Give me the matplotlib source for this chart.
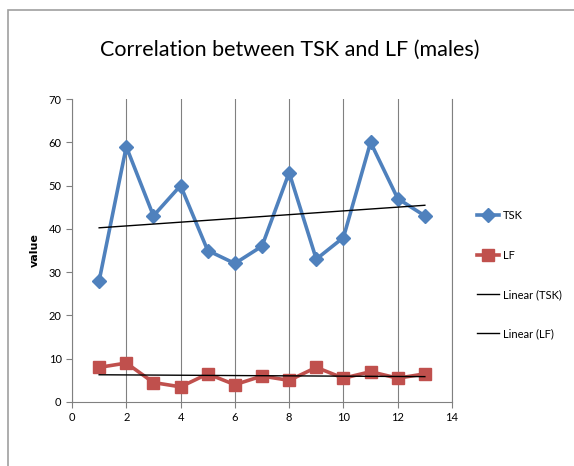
import numpy as np
import matplotlib
matplotlib.use("Agg")
import matplotlib.pyplot as plt
from matplotlib.patches import Rectangle

# valores por muestra
muestra = np.arange(1, 14)
tsk = [28, 59, 43, 50, 35, 32, 36, 53, 33, 38, 60, 47, 43]
lf = [8, 9, 4.5, 3.5, 6.5, 4, 6, 5, 8, 5.5, 7, 5.5, 6.5]

azul = '#4F81BD'
rojo = '#C0504D'
fuente = ['Lato', 'DejaVu Sans']

fig = plt.figure(figsize=(5.74, 4.66), dpi=100)
ax = fig.add_axes([72/574, 64/466, 380/574, 303/466])

# marco del gráfico
fig.patches.append(Rectangle((8/574, -0.1), 1.2, (466 - 10)/466 + 0.1,
                             transform=fig.transFigure, fill=False,
                             edgecolor='#A0A0A0', linewidth=1.2))

ax.plot(muestra, tsk, color=azul, linewidth=2.6, marker='D', markersize=7.5,
        label='TSK')
ax.plot(muestra, lf, color=rojo, linewidth=2.6, marker='s', markersize=8,
        label='LF')

# líneas de tendencia
p_tsk = np.polyfit(muestra, tsk, 1)
p_lf = np.polyfit(muestra, lf, 1)
xs = np.array([muestra[0], muestra[-1]])
ax.plot(xs, np.polyval(p_tsk, xs), color='black', linewidth=1.0,
        label='Linear (TSK)')
ax.plot(xs, np.polyval(p_lf, xs), color='black', linewidth=1.0,
        label='Linear (LF)')

ax.set_xlim(0, 14)
ax.set_ylim(0, 70)
ax.set_xticks(range(0, 15, 2))
ax.set_yticks(range(0, 71, 10))
ax.grid(axis='x', color='#808080', linewidth=0.8)
ax.set_axisbelow(True)
ax.spines['top'].set_visible(False)
for s in ['left', 'bottom', 'right']:
    ax.spines[s].set_color('#808080')
    ax.spines[s].set_linewidth(0.8)
ax.tick_params(colors='#808080', labelcolor='black', labelsize=8, length=4)
for t in ax.get_xticklabels() + ax.get_yticklabels():
    t.set_family(fuente)

ax.set_ylabel('value', fontsize=8, fontweight='bold', family='DejaVu Sans',
              labelpad=6)

fig.text(0.505, 0.893, 'Correlation between TSK and LF (males)',
         ha='center', va='center', fontsize=15.5, family=fuente)

ax.legend(loc='center left', bbox_to_anchor=(1.04, 0.42), frameon=False,
          prop={'family': fuente, 'size': 8}, labelspacing=2.55,
          handlelength=2.0, handletextpad=0.3)

fig.savefig('out.png', dpi=100)
